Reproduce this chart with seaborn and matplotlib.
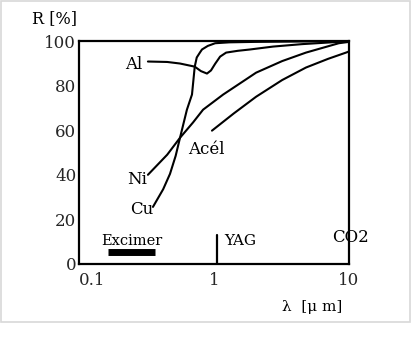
import matplotlib
matplotlib.use("Agg")
import matplotlib.pyplot as plt
import seaborn as sns
import pandas as pd
from matplotlib.patches import Rectangle

sns.set_theme(style="white")
plt.rcParams['font.family'] = ['DejaVu Serif', 'Liberation Serif']

# --- data (wavelength in µm, reflectance in %) ---
al_x = [0.324, 0.45, 0.56, 0.72, 0.80, 0.887, 0.95, 1.02, 1.11, 1.23, 1.50, 1.85, 2.74, 4.5, 8.4, 10.0]
al_y = [90.8, 90.6, 89.9, 88.5, 86.5, 85.4, 86.8, 89.8, 93.0, 94.8, 95.6, 96.2, 97.5, 98.6, 99.6, 99.8]

cu_x = [0.353, 0.42, 0.472, 0.52, 0.56, 0.63, 0.687, 0.72, 0.745, 0.79, 0.815, 0.90, 1.02, 1.3, 2.0, 5.0, 10.0]
cu_y = [25.6, 33.5, 40.4, 48.5, 56.6, 69.2, 76.0, 88.5, 92.6, 95.0, 96.2, 97.8, 99.0, 99.4, 99.6, 99.8, 100.0]

ni_x = [0.324, 0.45, 0.56, 0.70, 0.83, 1.17, 1.85, 2.05, 3.2, 4.8, 8.4, 10.0]
ni_y = [40.0, 49.0, 56.6, 63.5, 69.2, 76.0, 84.0, 85.8, 91.0, 94.8, 99.0, 99.6]

acel_x = [0.966, 1.4, 2.05, 3.2, 4.8, 7.0, 9.5, 10.0]
acel_y = [59.8, 67.5, 75.0, 82.5, 88.1, 92.0, 94.8, 95.3]

curve_names = ["Al", "Cu", "Ni", "Acél"]
label_x = [0.254, 0.293, 0.269, 0.645]
label_y = [89.4, 24.3, 37.8, 51.2]

x_ticks = [0.1, 1, 10]
x_tick_labels = ["0.1", "1", "10"]
y_ticks = [0, 20, 40, 60, 80, 100]

excimer_range = [0.164, 0.365]
excimer_level = 5.4
yag_wavelength = 1.06
yag_top = 13.0
co2_wavelength = 10.0

frames = []
for name, xs, ys in zip(curve_names, [al_x, cu_x, ni_x, acel_x], [al_y, cu_y, ni_y, acel_y]):
    frames.append(pd.DataFrame({"wl": xs, "R": ys, "metal": name}))
df = pd.concat(frames, ignore_index=True)

fig = plt.figure(figsize=(4.12, 3.47), dpi=100)
ax = fig.add_axes([79 / 412, 1 - 264 / 347, (349 - 79) / 412, (264 - 41) / 347])

sns.lineplot(data=df, x="wl", y="R", hue="metal", units="metal", estimator=None,
             palette={n: "black" for n in curve_names}, legend=False, linewidth=1.5, ax=ax)

ax.set_xscale("log")
ax.set_xlim(0.1, 10)
ax.set_ylim(0, 100)
ax.set_xticks(x_ticks)
ax.set_xticklabels(x_tick_labels)
ax.minorticks_off()
ax.set_yticks(y_ticks)
ax.set_yticklabels([str(v) for v in y_ticks])
ax.set_xlabel("")
ax.set_ylabel("")
ax.tick_params(axis="both", direction="in", length=4, width=1.5, labelsize=12, color="black", pad=2)
ax.tick_params(axis="x", pad=6)
ax.get_xticklabels()[0].set_ha("left")
for s in ax.spines.values():
    s.set_color("black")
    s.set_linewidth(1.6)

# curve labels
for name, lx, ly in zip(curve_names, label_x, label_y):
    ha = "left" if name == "Acél" else "center"
    ax.text(lx, ly, name, fontsize=12, ha=ha, va="center", color="black")

# Excimer bar
ax.plot(excimer_range, [excimer_level, excimer_level], color="black", linewidth=5, solid_capstyle="butt")
ax.text(0.247, 10.3, "Excimer", fontsize=10.5, ha="center", va="center", color="black")

# YAG line
ax.plot([yag_wavelength, yag_wavelength], [0, yag_top], color="black", linewidth=1.6)
ax.text(1.2, 10.3, "YAG", fontsize=11, ha="left", va="center", color="black")

# CO2
ax.text(co2_wavelength * 1.02, 12, "CO2", fontsize=12, ha="center", va="center", color="black", clip_on=False)

# axis titles
fig.text(32 / 412, 1 - 19 / 347, "R [%]", fontsize=11.5, ha="left", va="center", color="black")
fig.text(312 / 412, 1 - 307 / 347, "λ  [μ m]", fontsize=11, ha="center", va="center", color="black")

# light gray frame around image region
fig.add_artist(Rectangle((0.5 / 412, 1 - 322 / 347), 409.5 / 412, 321 / 347,
                         transform=fig.transFigure, fill=False, edgecolor="#d8d8d8", linewidth=1.2))

fig.savefig("out.png", dpi=100)
